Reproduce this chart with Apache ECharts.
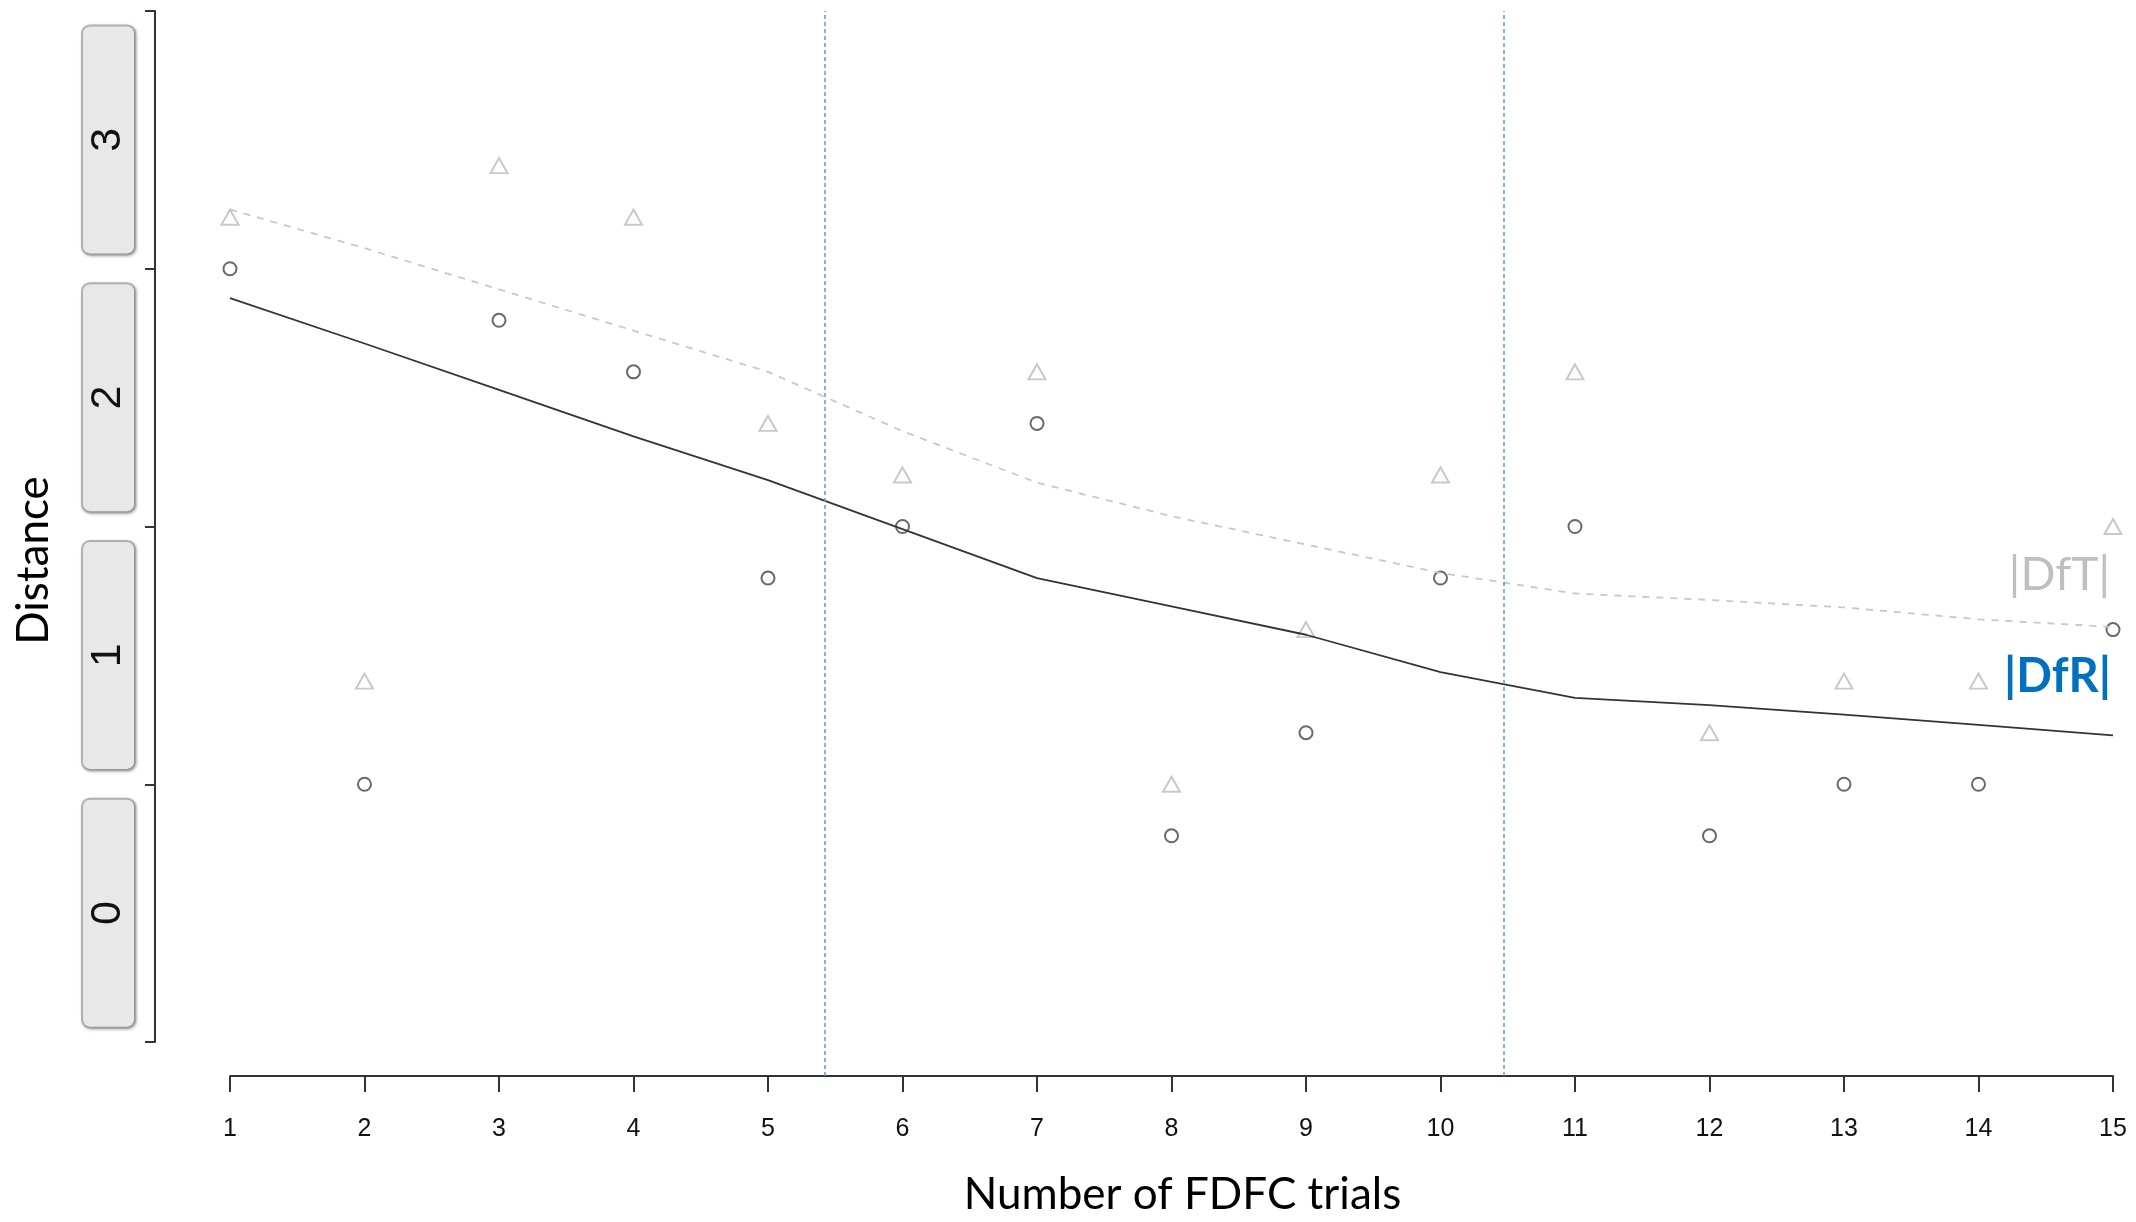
<!DOCTYPE html>
<html>
<head>
<meta charset="utf-8">
<script src="https://cdn.jsdelivr.net/npm/echarts@6/dist/echarts.min.js"></script>
<style>
  html, body { margin: 0; padding: 0; background: #fff; }
  #chart { width: 2136px; height: 1222px; }
</style>
</head>
<body>
<div id="chart"></div>
<script>
// x: trial number
const trials = [1, 2, 3, 4, 5, 6, 7, 8, 9, 10, 11, 12, 13, 14, 15];
// |DfR| points (circles) and |DfT| points (triangles)
const dfrPoints = [3.0, 1.0, 2.8, 2.6, 1.8, 2.0, 2.4, 0.8, 1.2, 1.8, 2.0, 0.8, 1.0, 1.0, 1.6];
const dftPoints = [3.2, 1.4, 3.4, 3.2, 2.4, 2.2, 2.6, 1.0, 1.6, 2.2, 2.6, 1.2, 1.4, 1.4, 2.0];
// smoothed curves
const dfrSmooth = [2.886, 2.71, 2.53, 2.35, 2.18, 1.99, 1.80, 1.69, 1.58, 1.435, 1.335, 1.307, 1.27, 1.23, 1.19];
const dftSmooth = [3.23, 3.08, 2.92, 2.76, 2.60, 2.37, 2.17, 2.04, 1.93, 1.82, 1.74, 1.715, 1.686, 1.64, 1.61];
// y bands
const distanceLabels = ['0', '1', '2', '3'];
// phase separators
const phaseBreaks = [5.42, 10.47];

const pairs = (ys) => trials.map((t, i) => [t, ys[i]]);

const chart = echarts.init(document.getElementById('chart'));

const option = {
  animation: false,
  backgroundColor: '#fff',
  grid: [
    { left: 230, right: 23, top: 11, bottom: 180 },
    { left: 230, right: 23, top: 11, bottom: 138 }
  ],
  xAxis: [
    { gridIndex: 0, type: 'value', min: 1, max: 15, show: false },
    {
      gridIndex: 1, type: 'value', min: 1, max: 15, interval: 1,
      axisLine: { lineStyle: { color: '#333', width: 2 } },
      axisTick: { length: 16, lineStyle: { color: '#333', width: 2 } },
      axisLabel: { margin: 41, fontSize: 25, color: '#111', fontFamily: 'Liberation Sans' },
      splitLine: { show: false },
      name: 'Number of FDFC trials',
      nameLocation: 'middle',
      nameGap: 97,
      nameTextStyle: { fontSize: 44, fontFamily: 'Lato', color: '#000', padding: [0, 0, 0, 22] }
    }
  ],
  yAxis: [
    { gridIndex: 0, type: 'value', min: 0, max: 4, show: false },
    {
      gridIndex: 0, type: 'category', data: distanceLabels, position: 'left', offset: 75,
      boundaryGap: true,
      axisLine: { show: true, lineStyle: { color: '#333', width: 2 } },
      axisTick: { show: true, length: 10, interval: 0, lineStyle: { color: '#333', width: 2 } },
      axisLabel: {
        interval: 0, rotate: 90, margin: 21,
        fontSize: 43, fontFamily: 'Liberation Sans', color: '#111',
        backgroundColor: '#e8e8e8', borderColor: '#b4b4b4', borderWidth: 2, borderRadius: 7,
        width: 227, height: 51, lineHeight: 51, align: 'center',
        shadowColor: 'rgba(0,0,0,0.25)', shadowBlur: 3, shadowOffsetX: 1, shadowOffsetY: 1
      },
      splitLine: { show: false },
      name: 'Distance',
      nameLocation: 'middle',
      nameRotate: 90,
      nameGap: 99,
      nameTextStyle: { fontSize: 44, fontFamily: 'Lato', color: '#000', padding: [0, 68, 0, 0] }
    },
    { gridIndex: 1, type: 'value', min: 0, max: 1, show: false }
  ],
  graphic: [
    {
      type: 'text', x: 2110, y: 575,
      style: { text: '|DfT|', fill: '#bfbfbf', font: '46px Lato', align: 'right', verticalAlign: 'middle' }
    },
    {
      type: 'text', x: 2111, y: 677,
      style: { text: '|DfR|', fill: '#0070c0', font: 'bold 47px Lato', align: 'right', verticalAlign: 'middle' }
    }
  ],
  series: [
    {
      // phase separators drawn across the full plot height
      type: 'line', xAxisIndex: 1, yAxisIndex: 2,
      data: [[1, 0], [1, 0]], showSymbol: false, lineStyle: { opacity: 0 }, silent: true,
      markLine: {
        symbol: 'none', silent: true, label: { show: false },
        lineStyle: { color: '#5b9bd5', type: [4, 3], width: 1.5 },
        data: phaseBreaks.map(v => ({ xAxis: v }))
      }
    },
    {
      name: '|DfT| smooth', type: 'line', xAxisIndex: 0, yAxisIndex: 0,
      data: pairs(dftSmooth), showSymbol: false,
      lineStyle: { color: '#c8c8c8', width: 1.8, type: [7, 7] }
    },
    {
      name: '|DfR| smooth', type: 'line', xAxisIndex: 0, yAxisIndex: 0,
      data: pairs(dfrSmooth), showSymbol: false,
      lineStyle: { color: '#333', width: 1.8 }
    },
    {
      name: '|DfT|', type: 'scatter', xAxisIndex: 0, yAxisIndex: 0,
      data: pairs(dftPoints), symbol: 'emptyTriangle', symbolSize: [17, 15],
      itemStyle: { color: '#bcbcbc', borderWidth: 1.5 }
    },
    {
      name: '|DfR|', type: 'scatter', xAxisIndex: 0, yAxisIndex: 0,
      data: pairs(dfrPoints), symbol: 'emptyCircle', symbolSize: 13,
      itemStyle: { color: '#444', borderWidth: 1.5 }
    }
  ]
};

chart.setOption(option);
</script>
</body>
</html>
